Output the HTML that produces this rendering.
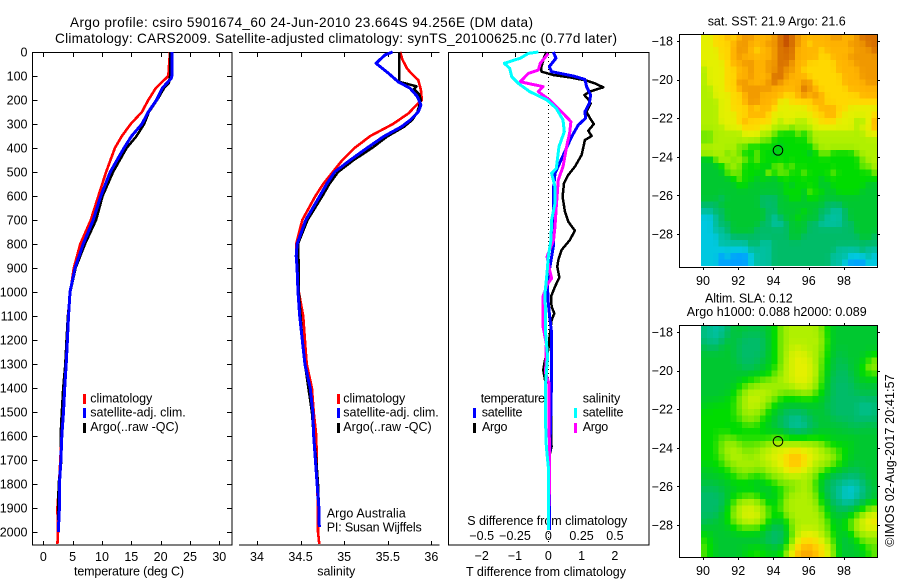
<!DOCTYPE html>
<html lang="en">
<head>
<meta charset="utf-8">
<title>Argo profile chart</title>
<style>
html,body{margin:0;padding:0;background:#fff;width:900px;height:580px;overflow:hidden}
svg{display:block}
text{font-family:"Liberation Sans",Arial,sans-serif;font-size:12.5px;fill:#000}
.t14{font-size:13.6px}
.frame{stroke:#000;stroke-width:1;fill:none;shape-rendering:crispEdges}
.cell{shape-rendering:crispEdges}
</style>
</head>
<body>
<svg id="chart" xmlns="http://www.w3.org/2000/svg" width="900" height="580" viewBox="0 0 900 580">
<rect width="900" height="580" fill="#fff"/>
<text class="t14" x="70" y="27" textLength="463">Argo profile: csiro 5901674_60 24-Jun-2010 23.664S 94.256E (DM data)</text>
<text class="t14" x="55" y="43" textLength="562">Climatology: CARS2009. Satellite-adjusted climatology: synTS_20100625.nc (0.77d later)</text>
<text x="74" y="575.7" textLength="110">temperature (deg C)</text>
<text x="317.3" y="575.7" textLength="38">salinity</text>
<text x="466" y="576" textLength="160">T difference from climatology</text>
<text x="467.3" y="525" textLength="160">S difference from climatology</text>
<text x="326.7" y="517.7" textLength="79">Argo Australia</text>
<text x="326.7" y="531.7" textLength="95">PI: Susan Wijffels</text>
<text x="707.7" y="25.7" textLength="138">sat. SST: 21.9 Argo: 21.6</text>
<text x="705" y="302.3" textLength="87.7">Altim. SLA: 0.12</text>
<text x="686.7" y="316" textLength="180">Argo h1000: 0.088 h2000: 0.089</text>
<text transform="translate(894,546.7) rotate(-90)" x="0" y="0" textLength="172.4">©IMOS 02-Aug-2017 20:41:57</text>

<rect class="cell" x="83" y="394" width="3" height="10" fill="#f00"/>
<rect class="cell" x="83" y="408" width="3" height="10" fill="#00f"/>
<rect class="cell" x="83" y="423" width="3" height="10" fill="#000"/>
<text x="90.3" y="402.7" textLength="62">climatology</text>
<text x="90.3" y="416.7" textLength="95.4">satellite-adj. clim.</text>
<text x="90.3" y="431" textLength="88.4">Argo(..raw -QC)</text>

<rect class="cell" x="337" y="394" width="3" height="10" fill="#f00"/>
<rect class="cell" x="337" y="408" width="3" height="10" fill="#00f"/>
<rect class="cell" x="337" y="423" width="3" height="10" fill="#000"/>
<text x="343.3" y="402.7" textLength="62">climatology</text>
<text x="343.3" y="416.7" textLength="95.4">satellite-adj. clim.</text>
<text x="343.3" y="431" textLength="88.4">Argo(..raw -QC)</text>

<g id="marks-layer"></g>

<text x="480.7" y="402.7" textLength="64.3">temperature</text>
<text x="582.7" y="402.7" textLength="37.6">salinity</text>
<rect class="cell" x="473" y="408" width="3" height="10" fill="#00f"/>
<rect class="cell" x="473" y="423" width="3" height="10" fill="#000"/>
<rect class="cell" x="574" y="408" width="3" height="10" fill="#0ff"/>
<rect class="cell" x="574" y="423" width="3" height="10" fill="#f0f"/>
<text x="481.7" y="416.7" textLength="40.8">satellite</text>
<text x="482" y="431" textLength="25.5">Argo</text>
<text x="582.7" y="416.7" textLength="40.8">satellite</text>
<text x="582.7" y="431" textLength="25.5">Argo</text>
</svg>
<script>
/* ---------- axis tick values ---------- */
var depthTicks = [0,100,200,300,400,500,600,700,800,900,1000,1100,1200,1300,1400,1500,1600,1700,1800,1900,2000];
var tempTicks = [0,5,10,15,20,25,30];
var salTicks = [34,34.5,35,35.5,36];
var salTickLabels = ['34','34.5','35','35.5','36'];
var tDiffTicks = [-2,-1,0,1,2];
var sDiffTicks = [-0.5,-0.25,0,0.25,0.5];
var sDiffTickLabels = ['-0.5','-0.25','0','0.25','0.5'];
var lonTicks = [90,92,94,96,98];
var latTicks = [-18,-20,-22,-24,-26,-28];

/* ---------- temperature profiles ---------- */
var climTempDepth = [0,100,150,200,250,300,350,400,500,600,700,800,900,1000,1100,1200,1300,1400,1500,1600,1700,1800,1900,2000,2050];
var climTemp = [21.6,21.3,19.2,17.9,16.8,14.9,13.4,12.2,10.7,9.4,8.1,6.3,5.2,4.6,4.2,4.0,3.8,3.6,3.4,3.1,2.9,2.7,2.4,2.5,2.4];
var satTempDepth = [0,100,110,150,200,250,300,350,400,500,600,700,800,900,1000,1100,1200,1300,1400,1500,1600,1700,1800,1900,2000];
var satTemp = [21.9,21.9,21.8,20.3,19.3,17.9,16.8,15.05,13.75,11.4,9.8,8.5,6.8,5.4,4.55,4.3,4.1,3.9,3.65,3.45,3.15,3.0,2.75,2.75,2.55];
var argoTempDepth = [0,100,130,150,200,250,300,350,400,500,600,700,800,900,1000,1100,1200,1300,1400,1500,1600,1700,1800,1900,1950];
var argoTemp = [21.6,21.6,21.4,20.6,19.4,18,17.2,15.9,14.2,11.9,10.1,9.0,7.1,5.5,4.6,4.2,3.95,3.75,3.4,3.15,2.95,3.1,2.6,2.55,2.5];

/* ---------- salinity profiles ---------- */
var climSalDepth = [0,33,68,89,117,158,200,228,255,300,350,400,450,500,550,600,700,800,900,1000,1100,1200,1300,1400,1500,1600,1700,1800,1900,2000,2050];
var climSal = [35.64,35.67,35.72,35.77,35.85,35.88,35.89,35.81,35.74,35.56,35.30,35.12,34.98,34.87,34.76,34.67,34.52,34.45,34.46,34.48,34.53,34.55,34.57,34.63,34.65,34.68,34.685,34.69,34.70,34.70,34.715];
var satSalDepth = [0,12,47,89,124,151,186,221,249,283,311,353,401,450,500,550,600,700,800,850,900,1000,1100,1200,1300,1400,1500,1600,1700,1800,1900,1980];
var satSal = [35.556,35.47,35.365,35.51,35.62,35.755,35.84,35.88,35.85,35.76,35.66,35.45,35.26,35.07,34.89,34.80,34.72,34.56,34.46,34.45,34.46,34.47,34.49,34.52,34.55,34.61,34.64,34.65,34.67,34.69,34.71,34.715];
var argoSalDepth = [0,124,143,155,175,200,250,283,311,353,400,450,500,550,600,700,800,900,1000,1100,1200,1300,1400,1500,1600,1700,1800,1900,1950];
var argoSal = [35.63,35.63,35.83,35.80,35.86,35.88,35.84,35.78,35.69,35.49,35.32,35.11,34.93,34.83,34.75,34.58,34.47,34.48,34.48,34.50,34.52,34.55,34.59,34.63,34.65,34.68,34.70,34.71,34.71];

/* ---------- differences from climatology ---------- */
var argoTDiffDepth = [0,19,68,82,96,106,119,131,147,165,179,197,214,249,276,300,328,350,367,429,478,512,547,603,665,707,744,783,825,867,894,939,978,1019,1061,1089,1117,1172,1242,1283,1325,1367,1380,1492,1617,1644,1672,1950];
var argoTDiff = [-0.05,-0.12,-0.22,-0.2,0.15,0.65,1.15,1.4,1.65,1.25,1.08,1.2,1.27,1.15,1.25,1.37,1.2,1.3,1.1,1.0,0.8,0.6,0.47,0.43,0.5,0.6,0.8,0.65,0.4,0.3,0.27,0.33,0.2,0.08,0.1,0.18,0.1,0.05,0,-0.1,-0.15,-0.1,0.03,0.08,0.08,0.1,0.05,0.03];
var satTDiffDepth = [0,26,61,82,100,114,144,179,214,249,276,304,353,429,506,575,658,742,811,894,964,1047,1114,1172,1352,1547,1728,1992];
var satTDiff = [0.15,0.23,0.03,0.1,0.75,1.1,1.15,1.27,1.23,1.1,1.12,0.9,0.7,0.45,0.2,0.15,0.15,0.17,0.15,0.05,-0.03,0,0.05,0.1,0.1,0.07,0.03,0.03];
var argoSDiffDepth = [6,47,75,89,124,144,165,200,249,290,339,388,478,533,644,728,783,853,908,943,971,1019,1114,1144,1172,1214,1339,1380,1547,1686,1811,1936];
var argoSDiff = [0,-0.06,-0.075,-0.15,-0.21,-0.04,-0.075,0.01,0.1,0.17,0.16,0.14,0.11,0.075,0.06,0.05,0.04,-0.01,0.01,0.025,-0.01,-0.04,-0.04,-0.04,-0.03,-0.015,-0.02,0.005,0.005,0.01,0.01,0];
var satSDiffDepth = [0,6,26,47,68,103,131,165,200,235,283,332,394,485,506,561,631,700,783,853,922,1006,1114,1172,1269,1380,1547,1644,1728,1992];
var satSDiff = [-0.075,-0.15,-0.21,-0.33,-0.29,-0.275,-0.225,-0.14,-0.01,0.06,0.11,0.12,0.08,0.06,0.025,0.05,0.05,0.025,0.02,0,-0.01,-0.025,-0.02,-0.02,-0.005,-0.02,-0.02,-0.015,0,0];

/* ---------- profile position ---------- */
var floatLon = [94.256];
var floatLat = [-23.664];

/* ---------- sea surface temperature grid (colour level per cell) ---------- */
var sstGrid = [
[8,8,9,9,10,9,10,11,11,10,10,10,11,12,13,12,11,10,10,10,10,10,11,11,10,10,11,12,12,12],
[8,8,9,9,9,10,11,11,10,10,10,11,11,12,13,12,11,10,9,10,10,10,10,10,10,11,11,11,12,12],
[8,8,8,9,9,10,11,11,10,9,10,10,11,12,12,12,10,10,10,10,9,10,10,10,10,10,11,11,11,12],
[8,8,8,9,9,10,11,10,10,10,10,10,11,12,12,12,10,10,10,10,9,9,10,10,10,11,11,11,11,11],
[8,8,8,8,9,10,10,11,11,10,10,11,11,12,12,11,10,10,9,9,9,9,9,10,10,10,11,11,11,11],
[7,8,8,8,9,9,10,10,11,10,10,11,11,12,11,11,10,9,9,9,9,9,9,10,10,10,10,11,11,11],
[7,8,8,8,9,9,10,10,11,10,10,10,12,12,11,10,10,10,9,9,9,9,9,9,10,10,10,11,11,11],
[7,8,8,8,9,9,11,11,10,10,10,11,12,11,10,10,10,11,11,9,9,9,9,9,10,10,10,10,11,11],
[7,7,8,8,9,9,10,11,11,11,11,11,10,10,10,10,10,12,11,10,9,9,9,9,9,10,10,10,10,10],
[7,7,8,8,8,9,9,10,11,11,10,10,10,10,9,9,10,11,10,11,10,9,9,9,9,9,9,10,10,10],
[7,7,7,8,8,9,9,10,11,11,10,10,10,8,8,9,9,9,9,10,10,9,9,9,9,9,9,9,9,9],
[7,7,7,8,8,9,9,9,10,9,10,10,9,8,8,8,8,8,9,9,10,10,10,9,9,8,8,8,8,8],
[7,7,7,8,8,8,9,9,10,10,10,9,8,8,8,8,8,8,8,9,9,10,10,9,8,8,8,8,8,9],
[7,7,7,8,8,8,9,10,9,9,9,9,8,7,8,8,7,7,8,8,9,9,9,8,8,8,7,7,8,10],
[7,7,7,7,8,8,8,9,9,9,8,8,7,7,7,6,7,7,7,8,8,8,8,8,8,8,7,8,8,10],
[6,6,7,7,7,7,7,8,8,8,7,7,6,5,5,5,6,5,6,7,7,7,7,7,7,7,7,7,8,8],
[6,6,7,7,7,7,7,7,7,7,6,6,5,5,5,5,5,5,6,7,7,7,7,7,7,7,7,7,7,7],
[7,7,7,7,7,7,6,6,5,5,5,5,5,4,5,5,5,5,5,6,7,7,7,7,7,7,7,7,7,7],
[7,7,7,7,6,7,6,5,5,6,5,5,4,5,5,5,5,5,4,5,6,6,5,5,5,5,6,7,7,7],
[4,4,6,7,7,6,7,6,5,6,5,5,5,5,5,5,5,5,5,5,5,5,5,5,5,5,5,6,7,7],
[4,4,4,5,6,7,6,5,5,5,5,4,6,6,5,6,5,5,5,5,5,5,5,5,5,5,5,6,6,7],
[4,4,4,4,6,6,6,5,5,5,4,7,5,6,6,5,5,6,5,5,5,5,6,5,5,5,5,5,5,6],
[4,4,4,4,4,5,6,5,5,4,5,4,4,5,5,5,5,5,5,5,4,5,5,5,5,5,5,5,5,5],
[4,4,4,4,4,4,5,5,4,4,4,4,4,4,5,4,5,5,5,5,4,4,5,5,5,5,5,5,4,4],
[4,4,4,4,4,4,4,4,4,4,4,4,4,4,5,5,5,4,6,5,5,4,4,5,5,5,5,4,4,4],
[4,4,4,3,4,4,4,4,4,4,3,3,3,4,4,5,5,4,5,5,4,4,4,4,4,4,4,4,4,4],
[3,3,3,4,4,4,4,4,4,4,3,3,3,4,4,4,4,4,4,4,4,3,3,3,4,4,4,4,4,4],
[2,2,3,3,4,4,4,4,4,4,4,3,3,4,4,4,4,5,4,4,3,3,2,2,3,4,4,4,4,4],
[1,1,2,3,4,4,4,4,4,4,4,3,2,3,4,4,5,4,4,4,3,2,2,2,3,4,4,4,4,4],
[1,1,2,3,3,4,4,4,4,4,3,3,2,2,3,4,4,4,3,3,2,2,2,2,3,3,4,4,4,4],
[1,1,2,2,3,4,4,4,4,3,3,3,3,3,3,4,4,4,3,3,3,3,3,3,3,3,4,4,4,4],
[1,1,1,2,2,3,3,3,3,3,3,3,3,3,3,4,4,3,3,3,3,3,3,3,3,3,3,4,4,3],
[1,1,1,2,2,2,2,2,3,3,2,2,3,3,3,3,3,3,3,3,3,3,3,3,3,3,3,3,3,3],
[1,1,1,1,1,1,1,1,2,2,2,2,3,3,3,3,3,3,3,3,3,3,3,2,2,2,2,3,2,2],
[1,1,1,0,1,0,0,0,1,2,2,2,3,3,3,3,3,3,3,3,3,3,2,2,2,1,1,1,2,1],
[1,1,1,0,0,0,0,0,1,2,2,2,3,3,3,3,3,3,3,3,3,3,2,2,1,0,0,0,1,1]
];

/* ---------- sea level anomaly grid (colour level per cell) ---------- */
var slaGrid = [
[3,2,2,2,3,4,4,4,4,4,4,4,5,6,7,7,7,7,7,7,6,5,4,4,4,4,4,4,4,4],
[3,2,2,2,3,4,4,3,3,3,3,4,5,6,7,7,7,7,7,7,7,5,4,4,4,4,4,4,4,4],
[3,2,2,3,4,4,3,3,3,3,3,4,5,6,7,7,7,7,7,7,7,5,4,4,4,4,4,4,4,4],
[4,3,3,4,4,4,3,3,3,3,3,4,5,6,7,7,8,7,7,7,7,5,4,4,4,4,4,4,4,4],
[4,4,4,4,4,4,3,3,3,3,3,4,5,6,7,8,8,8,7,7,6,5,4,3,4,4,4,4,4,5],
[4,4,4,4,4,4,3,3,3,3,4,4,5,6,7,8,8,8,8,7,6,5,4,3,4,4,4,4,6,7],
[4,4,4,4,4,4,4,3,3,4,4,4,5,6,7,8,8,8,8,7,6,4,4,3,3,4,4,5,7,6],
[4,4,4,4,4,4,4,4,4,4,4,5,6,7,7,8,8,8,8,7,6,4,4,3,3,4,4,5,6,6],
[4,4,4,4,4,4,4,5,5,6,6,6,6,7,7,8,8,8,8,7,6,4,3,3,3,3,4,4,4,4],
[4,4,4,4,4,4,5,6,6,7,7,7,7,7,7,7,8,8,7,7,5,4,3,3,3,3,4,4,4,4],
[4,4,4,4,4,5,6,7,7,7,7,7,7,6,6,6,6,7,7,6,5,4,3,3,3,3,3,4,3,4],
[4,4,4,4,5,5,6,7,8,8,7,7,6,5,5,5,5,5,5,5,4,4,3,3,3,3,3,3,3,3],
[4,5,5,5,5,5,6,7,7,7,7,6,5,4,4,4,4,4,4,4,4,3,3,3,3,3,3,2,2,3],
[5,5,5,5,5,5,6,7,7,7,6,5,4,4,3,3,3,3,4,4,4,4,3,3,3,3,3,2,2,3],
[5,5,5,5,5,5,6,6,7,6,5,5,4,3,3,2,2,3,3,4,4,4,3,3,3,3,3,3,3,3],
[5,5,5,5,5,5,5,5,6,5,5,4,4,3,3,2,2,2,3,3,4,4,4,4,4,3,3,3,4,3],
[5,5,5,5,5,4,5,5,5,5,5,4,4,4,3,3,2,3,3,4,4,4,4,4,4,4,4,4,4,4],
[5,5,5,6,6,6,5,5,5,5,5,5,6,6,5,5,5,5,5,5,5,5,4,4,4,4,4,4,4,4],
[5,5,5,6,7,7,6,6,6,6,6,7,7,7,7,7,7,7,7,7,6,5,5,5,5,5,4,4,4,4],
[5,5,5,6,7,7,7,6,6,7,7,7,8,8,8,9,9,8,8,8,7,7,6,5,5,4,4,4,4,4],
[5,5,5,6,7,7,7,7,6,7,7,8,8,8,9,10,10,9,8,8,7,7,7,6,5,4,4,4,4,4],
[5,5,5,5,6,7,7,7,7,7,7,7,8,8,9,10,10,9,8,7,7,7,6,5,5,4,4,4,4,4],
[4,4,5,5,5,6,6,7,7,6,6,7,7,7,8,9,8,8,7,7,6,5,5,4,4,3,3,4,4,4],
[4,4,4,4,5,5,6,6,5,5,6,6,7,7,7,8,7,7,7,6,5,4,3,3,3,3,3,3,4,4],
[4,4,4,4,4,5,5,5,5,4,4,5,5,6,6,6,6,7,7,5,4,3,3,3,2,2,2,3,4,4],
[3,3,3,4,4,4,4,4,4,4,4,4,5,5,6,6,7,7,7,6,4,3,3,2,1,1,1,2,3,4],
[3,3,3,3,4,5,5,6,6,6,4,4,4,5,6,7,7,7,7,6,5,3,3,2,1,1,2,3,3,4],
[3,3,3,3,4,6,7,7,7,7,6,5,4,6,7,7,7,7,7,7,5,4,3,3,2,2,3,3,4,5],
[3,3,3,3,5,6,7,8,8,7,7,6,4,6,7,7,7,7,7,7,6,4,4,3,3,3,4,5,6,7],
[3,3,3,4,5,7,7,8,8,8,7,6,5,5,6,7,7,7,7,7,7,5,4,4,4,5,6,7,8,8],
[3,4,4,4,5,6,7,7,8,7,7,5,4,4,5,7,7,7,7,7,7,6,4,4,5,6,7,8,8,9],
[4,4,4,4,4,5,6,6,6,6,5,4,3,3,4,6,7,7,7,7,7,6,5,4,5,6,7,8,8,8],
[5,4,4,4,4,4,4,4,4,4,4,3,3,3,4,6,8,8,8,8,7,6,5,4,4,5,6,7,7,7],
[6,5,4,4,4,4,4,4,4,4,4,3,3,3,4,6,8,9,9,9,8,7,6,4,3,4,5,6,6,6],
[6,5,4,4,4,4,4,4,4,4,4,4,3,3,5,8,9,10,10,9,9,8,6,4,4,4,4,5,6,6],
[6,5,4,4,4,4,4,5,6,6,6,5,5,6,7,9,10,11,11,10,9,8,7,4,4,4,4,4,5,6]
];

var NS = 'http://www.w3.org/2000/svg';
var layer = document.getElementById('marks-layer');
var levelColors = [[0,160,255],[0,200,224],[0,192,160],[0,188,104],[0,200,48],[0,220,0],[112,232,0],[176,240,0],[228,240,0],[255,216,0],[255,180,0],[240,152,0],[216,112,0],[192,72,0]];

/* axis functions */
function depthY(d){return 52+0.24*d;}
function tempX(t){return 43.3+5.867*t;}
function salX(s){return 257+87.17*(s-34);}
function tDiffX(v){return 548.3+33.3*v;}
function sDiffX(v){return 548.3+133.2*v;}
function lonX(lon){return 703+17.62*(lon-90);}
function topLatY(lat){return 41+19.3*(-18-lat);}
function botLatY(lat){return 332+19.3*(-18-lat);}
function levelColor(v){
  var top=levelColors.length-1;
  var p=Math.max(0,Math.min(top,v));
  var i=Math.min(top-1,Math.floor(p)), f=p-i;
  var a=levelColors[i], b=levelColors[i+1];
  return 'rgb('+Math.round(a[0]+(b[0]-a[0])*f)+','+Math.round(a[1]+(b[1]-a[1])*f)+','+Math.round(a[2]+(b[2]-a[2])*f)+')';
}
/* display value: weighted mean of a cell and its neighbours */
function displayValue(grid,r,c,centre,side,corner){
  var sum=0,w=0;
  for(var dr=-1;dr<=1;dr++){
    for(var dc=-1;dc<=1;dc++){
      var row=grid[r+dr];
      if(!row||row[c+dc]===undefined){continue;}
      var k=(dr===0&&dc===0)?centre:((dr===0||dc===0)?side:corner);
      sum+=row[c+dc]*k;w+=k;
    }
  }
  return sum/w;
}

function make(tag,parent,attrs){
  var el=document.createElementNS(NS,tag);
  for(var k in attrs){el.setAttribute(k,attrs[k]);}
  (parent||layer).appendChild(el);
  return el;
}
function label(str,x,y,anchor){
  var el=make('text',layer,{x:x,y:y,'text-anchor':anchor||'middle'});
  el.textContent=str;
  return el;
}
function hairline(x1,y1,x2,y2){
  return make('line',layer,{x1:x1,y1:y1,x2:x2,y2:y2,stroke:'#000','stroke-width':1,'shape-rendering':'crispEdges'});
}
function profile(values,depths,xFn,color,width){
  var pts=[];
  for(var i=0;i<values.length;i++){pts.push(xFn(values[i]).toFixed(1)+','+depthY(depths[i]).toFixed(1));}
  return make('polyline',layer,{points:pts.join(' '),fill:'none',stroke:color,'stroke-width':width,'stroke-linejoin':'round','stroke-linecap':'butt','shape-rendering':'crispEdges'});
}
function heatmap(grid,latFn,centre,side,corner){
  var g=make('g',layer,{});
  var west=90-1/9, north=-17.65, dLon=1/3, dLat=1/3;
  for(var r=0;r<grid.length;r++){
    for(var c=0;c<grid[r].length;c++){
      var x0=lonX(west+c*dLon), x1=lonX(west+(c+1)*dLon);
      var y0=latFn(north-r*dLat), y1=latFn(north-(r+1)*dLat);
      var cell=make('rect',g,{x:x0.toFixed(2),y:y0.toFixed(2),width:(x1-x0+0.4).toFixed(2),height:(y1-y0+0.4).toFixed(2),fill:levelColor(displayValue(grid,r,c,centre,side,corner))});
      cell.setAttribute('class','cell');
      
      
    }
  }
  return g;
}

/* ---------- maps ---------- */
var sstMap=heatmap(sstGrid,topLatY,6,1,0);


var slaMap=heatmap(slaGrid,botLatY,2,1,1);



var topFrame=make('rect',layer,{x:679.5,y:34.5,width:198,height:233,'class':'frame'});


var botFrame=make('rect',layer,{x:679.5,y:325.5,width:198,height:232,'class':'frame'});



lonTicks.forEach(function(lon){
  var x=Math.round(lonX(lon))+0.5, a, b, c, d, t1, t2;
  a=hairline(x,32,x,34);
  
  
  b=hairline(x,267,x,270);
  
  
  c=hairline(x,323,x,325);
  
  
  d=hairline(x,557,x,560);
  
  
  t1=label(String(lon),lonX(lon),285);
  
  
  t2=label(String(lon),lonX(lon),575);
  
  
});
latTicks.forEach(function(lat){
  var y1=Math.round(topLatY(lat))+0.5, y2=Math.round(botLatY(lat))+0.5, a,b,c,d,t1,t2;
  a=hairline(677,y1,679,y1);
  
  
  b=hairline(878,y1,880,y1);
  
  
  c=hairline(677,y2,679,y2);
  
  
  d=hairline(878,y2,880,y2);
  
  
  t1=label('\u2212'+Math.abs(lat),673,topLatY(lat)+4.5,'end');
  
  
  t2=label('\u2212'+Math.abs(lat),673,botLatY(lat)+4.5,'end');
  
  
});
var sstMarker=make('circle',layer,{cx:lonX(floatLon[0]),cy:topLatY(floatLat[0]),r:4.8,fill:'none',stroke:'#000','stroke-width':1});


var slaMarker=make('circle',layer,{cx:lonX(floatLon[0]),cy:botLatY(floatLat[0]),r:4.8,fill:'none',stroke:'#000','stroke-width':1});



/* ---------- panel frames ---------- */
var f1=make('rect',layer,{x:32.5,y:52.5,width:199.5,height:492.5,'class':'frame'});


var f2a=hairline(239,52.5,439.5,52.5);


var f2b=hairline(239,545,439.5,545);


var f3=make('rect',layer,{x:448.5,y:52.5,width:200.5,height:492.5,'class':'frame'});



/* ---------- ticks ---------- */
depthTicks.forEach(function(d){
  var y=Math.round(depthY(d))+0.5;
  var a=hairline(32.5,y,37.5,y);
  
  
  var b=hairline(227,y,232,y);
  
  
  var t=label(String(d),27.5,depthY(d)+4.5,'end');
  
  
});
tempTicks.forEach(function(v){
  var x=Math.round(tempX(v))+0.5;
  var a=hairline(x,52.5,x,57);
  
  
  var b=hairline(x,541,x,545);
  
  
  var t=label(String(v),tempX(v),561);
  
  
});
salTicks.forEach(function(v,i){
  var x=Math.round(salX(v))+0.5;
  var a=hairline(x,52.5,x,57);
  
  
  var b=hairline(x,541,x,545);
  
  
  var t=label(salTickLabels[i],salX(v),561);
  
  
});
tDiffTicks.forEach(function(v){
  var x=Math.round(tDiffX(v))+0.5;
  if(v!==0){
    var a=hairline(x,52.5,x,57);
    
    
  }
  var t=label(v<0?'\u2212'+Math.abs(v):String(v),tDiffX(v),560);
  
  
});
sDiffTicks.forEach(function(v,i){
  var t=label(sDiffTickLabels[i].replace('-','\u2212'),sDiffX(v),540);
  
  
});

/* ---------- zero reference ---------- */
var zero=make('line',layer,{x1:548.5,y1:53,x2:548.5,y2:545,stroke:'#000','stroke-width':1,'stroke-dasharray':'1 3','shape-rendering':'crispEdges'});



/* ---------- series ---------- */
var s;
s=profile(climTemp,climTempDepth,tempX,'#f00',2.6);


s=profile(argoTemp,argoTempDepth,tempX,'#000',2.5);


s=profile(satTemp,satTempDepth,tempX,'#00f',3);



s=profile(climSal,climSalDepth,salX,'#f00',2.6);


s=profile(argoSal,argoSalDepth,salX,'#000',2.5);


s=profile(satSal,satSalDepth,salX,'#00f',3);



s=profile(argoTDiff,argoTDiffDepth,tDiffX,'#000',2.5);


s=profile(satTDiff,satTDiffDepth,tDiffX,'#00f',3);


s=profile(argoSDiff,argoSDiffDepth,sDiffX,'#f0f',3);


s=profile(satSDiff,satSDiffDepth,sDiffX,'#0ff',3);


</script>
</body>
</html>
